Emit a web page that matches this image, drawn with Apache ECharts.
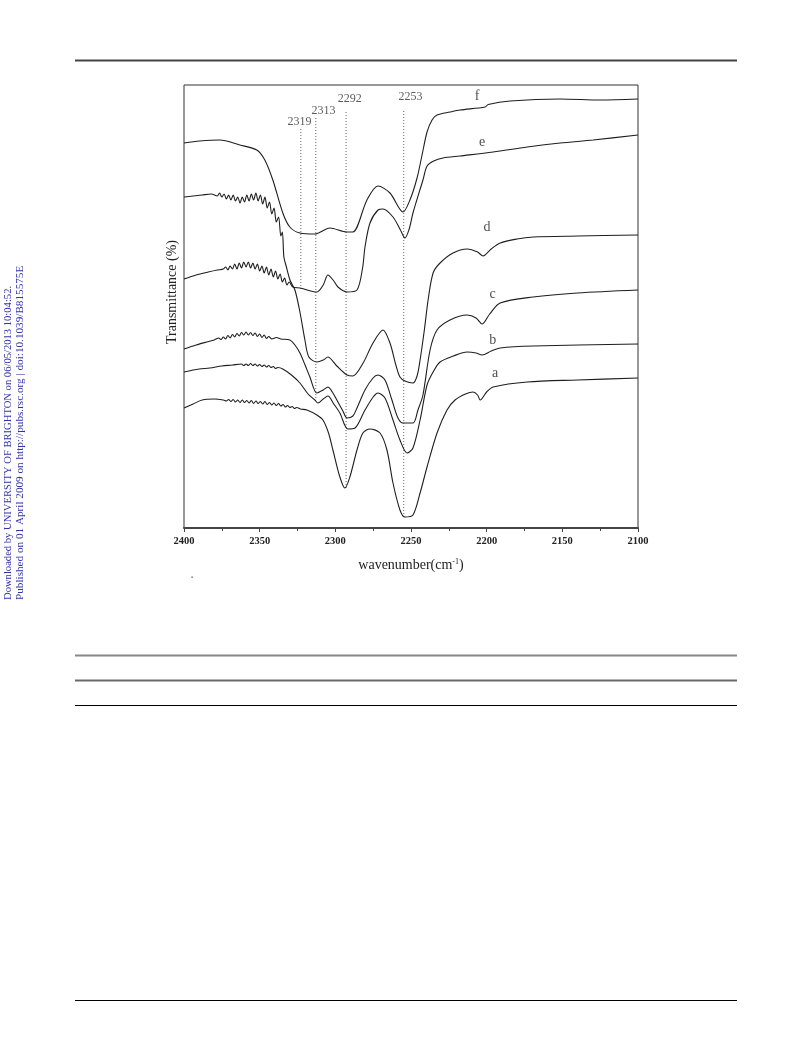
<!DOCTYPE html>
<html><head><meta charset="utf-8">
<script src="https://cdn.jsdelivr.net/npm/echarts@6.0.0/dist/echarts.min.js"></script>
<style>html,body{margin:0;padding:0;background:#fff}#c{width:793px;height:1039px}</style>
</head><body><div id="c"></div>
<script>
// wavenumber (cm-1), relative transmittance (offset, arbitrary units)
const curveNames = ['a','b','c','d','e','f'];
const curveA = [[2400,120],[2394,124],[2388,128],[2380,129],[2374,128],[2372,127],[2370.5,128.5],[2369,126.5],[2367.5,128.5],[2366,126],[2364.5,128],[2363,125.5],[2361.5,128],[2360,125.5],[2358.5,127.5],[2357,125],[2355.5,127.5],[2354,124.5],[2352.5,127],[2351,124.5],[2349.5,126.5],[2348,124],[2346.5,126.5],[2345,123.5],[2343.5,125.5],[2342,123],[2340.5,125],[2339,122.5],[2337.5,124.5],[2336,122],[2334.5,123.5],[2333,121],[2331.5,122.5],[2330,120.5],[2328.5,121.5],[2327,119.5],[2325.5,120.5],[2323,119],[2318.8,118],[2312.2,113],[2308.2,108],[2304.5,95],[2301.6,78],[2297,51],[2293.7,40],[2290.4,51],[2285.7,78],[2281.8,95],[2277.1,99],[2270.5,95],[2265.9,78],[2261.9,45],[2257.3,18],[2254,11],[2248.7,13],[2244,35],[2239.4,61],[2232.8,95],[2226.2,118],[2220.9,128],[2214,134],[2209,136],[2206,133],[2204.3,128],[2200,136],[2195.7,141],[2173.2,146],[2140,148],[2100,150]];
const curveB = [[2400,156],[2390,159],[2383,160],[2375,162],[2368,163],[2362,164],[2360.5,162.5],[2359,164],[2357.5,162.5],[2356,164.5],[2354.5,162.5],[2353,164],[2351.5,162],[2350,163.5],[2348.5,161.5],[2347,163],[2345.5,161],[2344,162.5],[2342.5,160.5],[2341,161.5],[2339.5,159.5],[2338,160.5],[2334.7,159],[2329,153],[2323.4,145],[2318,134],[2313.5,128],[2311.5,125],[2308,129],[2304.9,132],[2301,124],[2297,115],[2291.7,99],[2287,100],[2280.4,118],[2275,131],[2271.8,135],[2267.2,130],[2261.9,108],[2257.3,88],[2252.6,75],[2248.7,80],[2244,108],[2239.4,143],[2235.4,156],[2230.8,166],[2222,172],[2212.9,176],[2207,175],[2203,173],[2197,177],[2191.1,180],[2169.3,182],[2100,184]];
const curveC = [[2400,179],[2392,183],[2385,186],[2380,188],[2377,190],[2375.5,188.5],[2374,191],[2372.5,189],[2371,192.5],[2369.5,190],[2368,193.5],[2366.5,191],[2365,194.5],[2363.5,192],[2362,195.5],[2360.5,193],[2359,196],[2357.5,193],[2356,195.5],[2354.5,192.5],[2353,195],[2351.5,191.5],[2350,194],[2348.5,190.5],[2347,193],[2345.5,189.5],[2344,191.5],[2342,189],[2339,190.5],[2336,189],[2330.1,188],[2326.7,183],[2323.4,175],[2320,163],[2316.8,151],[2312.2,135],[2308,138],[2304.9,141],[2302,136],[2299,128],[2295,117],[2292.3,110],[2288.4,112],[2285.7,120],[2280.4,138],[2275.1,150],[2271.8,153],[2267.2,148],[2262.6,128],[2258.6,110],[2255.3,105],[2248.7,105],[2245.4,118],[2242.1,133],[2237.4,178],[2232.8,198],[2224.2,208],[2212.9,213],[2207,210],[2203,204],[2198,214],[2191.1,225],[2169.3,231],[2140,235],[2100,238]];
const curveD = [[2400,331],[2394,332],[2388,333],[2382,334],[2378,332],[2376.5,335],[2375,331],[2373.5,334],[2372,329],[2370.5,333],[2369,328],[2367.5,333],[2366,327],[2364.5,331],[2363,325],[2361.5,331],[2360,326],[2358.5,333],[2357,327],[2355.5,334],[2354,328],[2352.5,335],[2351,327],[2349.5,333],[2348,324],[2346.5,331],[2345,320],[2343.5,326],[2342,314],[2340.5,320],[2339,306],[2337.5,311],[2336,292],[2335,296],[2334,271],[2332.5,262],[2330,248],[2326.7,238],[2323.4,216],[2320.1,188],[2317.5,171],[2312.2,166],[2308,168],[2304.9,171],[2299,162],[2292.3,153],[2288.4,152],[2282,164],[2275.1,185],[2268.5,198],[2263.9,185],[2260,163],[2257.3,151],[2254,147],[2248.7,145],[2246,152],[2244,168],[2241,200],[2238.7,228],[2235.4,255],[2230.8,265],[2222.2,275],[2212.9,279],[2206,276],[2202.4,272],[2197,279],[2191.1,285],[2180,289],[2169.3,291],[2140,292],[2100,293]];
const curveE = [[2400,249],[2392,253],[2384,256],[2378,258],[2374,259],[2372.5,261],[2371,258],[2369.5,262],[2368,259],[2366.5,264],[2365,259],[2363.5,265],[2362,260],[2360.5,266],[2359,261],[2357.5,266],[2356,260],[2354.5,265],[2353,259],[2351.5,264],[2350,257],[2348.5,262],[2347,255],[2345.5,261],[2344,253],[2342.5,259],[2341,251],[2339.5,257],[2338,249],[2336.5,254],[2335,246],[2333.5,250],[2332,243],[2330.5,246],[2328.1,241],[2323.4,240],[2312.2,236],[2308,243],[2304.9,253],[2301,247],[2298.3,241],[2292.3,236],[2285.7,238],[2282,260],[2280.4,281],[2277.1,305],[2271.8,318],[2268.5,319],[2261.9,311],[2257,298],[2254,290],[2251,300],[2248.7,315],[2242.1,348],[2239.4,362],[2235,367],[2228.8,370],[2217.6,372],[2195.7,376],[2173.2,381],[2151.4,385],[2129.6,388],[2100,393]];
const curveF = [[2400,385],[2389.6,387],[2376.4,388],[2363.1,383],[2351.9,378],[2346.6,368],[2341.3,348],[2334.7,315],[2330.1,301],[2323.4,295],[2313.5,294],[2303.6,300],[2292.3,296],[2288.4,296],[2279.1,328],[2271.8,342],[2263.9,335],[2255.3,316],[2250.7,328],[2246,350],[2242.7,373],[2239.4,396],[2236.1,408],[2232.8,413],[2224.2,416],[2217.6,418],[2201,421],[2199,423.5],[2184.5,427],[2151.4,429],[2124.9,428],[2100,429]];
const curveLabelW = [2194.4, 2196, 2196, 2199.7, 2203, 2206.4];
const curveLabelV = [155, 188, 234, 301, 386, 432];
const xTicks = [2400, 2350, 2300, 2250, 2200, 2150, 2100];
const peakLabels = ['2319', '2313', '2292', '2253'];
const peakLineW = [2322.8, 2312.9, 2292.9, 2254.8];
const peakLineTop = [399, 410, 416, 417];
const peakLineBottom = [238, 128, 40, 11];
const peakLabelW = [2323.6, 2307.9, 2290.4, 2250.3];
const peakLabelV = [406, 417, 429, 431];

const curves = [curveA, curveB, curveC, curveD, curveE, curveF];
const serif = 'Liberation Serif';
const series = [];
curves.forEach((d, i) => series.push({
  type: 'line', name: curveNames[i], data: d, symbol: 'none', smooth: 0.3,
  lineStyle: { color: '#1e1e1e', width: 1.1 }, silent: true, z: 3
}));
peakLabels.forEach((t, i) => series.push({
  type: 'line', data: [[peakLineW[i], peakLineTop[i]], [peakLineW[i], peakLineBottom[i]]],
  symbol: 'none', lineStyle: { color: '#666', width: 1, type: [1, 2] }, silent: true, z: 2
}));
series.push({
  type: 'scatter', symbolSize: 1, itemStyle: { color: 'rgba(0,0,0,0)' }, silent: true,
  data: peakLabels.map((t, i) => ({ name: t, value: [peakLabelW[i], peakLabelV[i]] })),
  label: { show: true, position: 'inside', formatter: '{b}', color: '#333', fontFamily: serif, fontSize: 12 }
});
series.push({
  type: 'scatter', symbolSize: 1, itemStyle: { color: 'rgba(0,0,0,0)' }, silent: true,
  data: curveNames.map((t, i) => ({ name: t, value: [curveLabelW[i], curveLabelV[i]] })),
  label: { show: true, position: 'inside', formatter: '{b}', color: '#222', fontFamily: serif, fontSize: 14 }
});

const chart = echarts.init(document.getElementById('c'), null, { renderer: 'canvas' });
chart.setOption({
  animation: false,
  backgroundColor: '#fff',
  grid: { left: 184, right: 155, top: 85, bottom: 511, show: true, borderColor: '#333', borderWidth: 1 },
  xAxis: {
    type: 'value', min: 2100, max: 2400, interval: 50, inverse: true,
    axisLine: { show: true, lineStyle: { color: '#444', width: 2 } },
    axisTick: { show: true, length: 4, lineStyle: { color: '#444' } },
    minorTick: { show: true, splitNumber: 2, length: 3, lineStyle: { color: '#444' } },
    splitLine: { show: false },
    axisLabel: { margin: 8, color: '#222', fontFamily: serif, fontSize: 10.5, fontWeight: 'bold',
      formatter: v => xTicks.includes(v) ? String(v) : '' }
  },
  yAxis: { type: 'value', min: 0, max: 443, show: false },
  series: series,
  graphic: [
    { type: 'line', shape: { x1: 75, y1: 60.5, x2: 737, y2: 60.5 }, style: { stroke: '#444', lineWidth: 2 } },
    { type: 'line', shape: { x1: 75, y1: 655.5, x2: 737, y2: 655.5 }, style: { stroke: '#888', lineWidth: 2 } },
    { type: 'line', shape: { x1: 75, y1: 680.5, x2: 737, y2: 680.5 }, style: { stroke: '#6a6a6a', lineWidth: 2 } },
    { type: 'line', shape: { x1: 75, y1: 705.5, x2: 737, y2: 705.5 }, style: { stroke: '#000', lineWidth: 1 } },
    { type: 'line', shape: { x1: 75, y1: 1000.5, x2: 737, y2: 1000.5 }, style: { stroke: '#000', lineWidth: 1 } },
    { type: 'rect', shape: { x: 191.5, y: 576.5, width: 1.2, height: 1.2 }, style: { fill: '#333' } },
    { type: 'text', x: 172, y: 292, rotation: Math.PI / 2,
      style: { text: 'Transmittance (%)', fill: '#222', font: '14px "Liberation Serif"', align: 'center', verticalAlign: 'middle' } },
    { type: 'text', x: 411, y: 565,
      style: { text: 'wavenumber(cm{s|-1})', fill: '#222', font: '14px "Liberation Serif"', align: 'center', verticalAlign: 'middle',
        rich: { s: { fontSize: 8, fontFamily: serif, verticalAlign: 'top', fill: '#222' } } } },
    { type: 'text', x: 8, y: 600, rotation: Math.PI / 2,
      style: { text: 'Downloaded by UNIVERSITY OF BRIGHTON on 06/05/2013 10:04:52.', fill: '#3333aa', font: '10.6px "Liberation Serif"', align: 'left', verticalAlign: 'middle' } },
    { type: 'text', x: 20, y: 600, rotation: Math.PI / 2,
      style: { text: 'Published on 01 April 2009 on http://pubs.rsc.org | doi:10.1039/B815575E', fill: '#3333aa', font: '11.2px "Liberation Serif"', align: 'left', verticalAlign: 'middle' } }
  ]
});
</script></body></html>
